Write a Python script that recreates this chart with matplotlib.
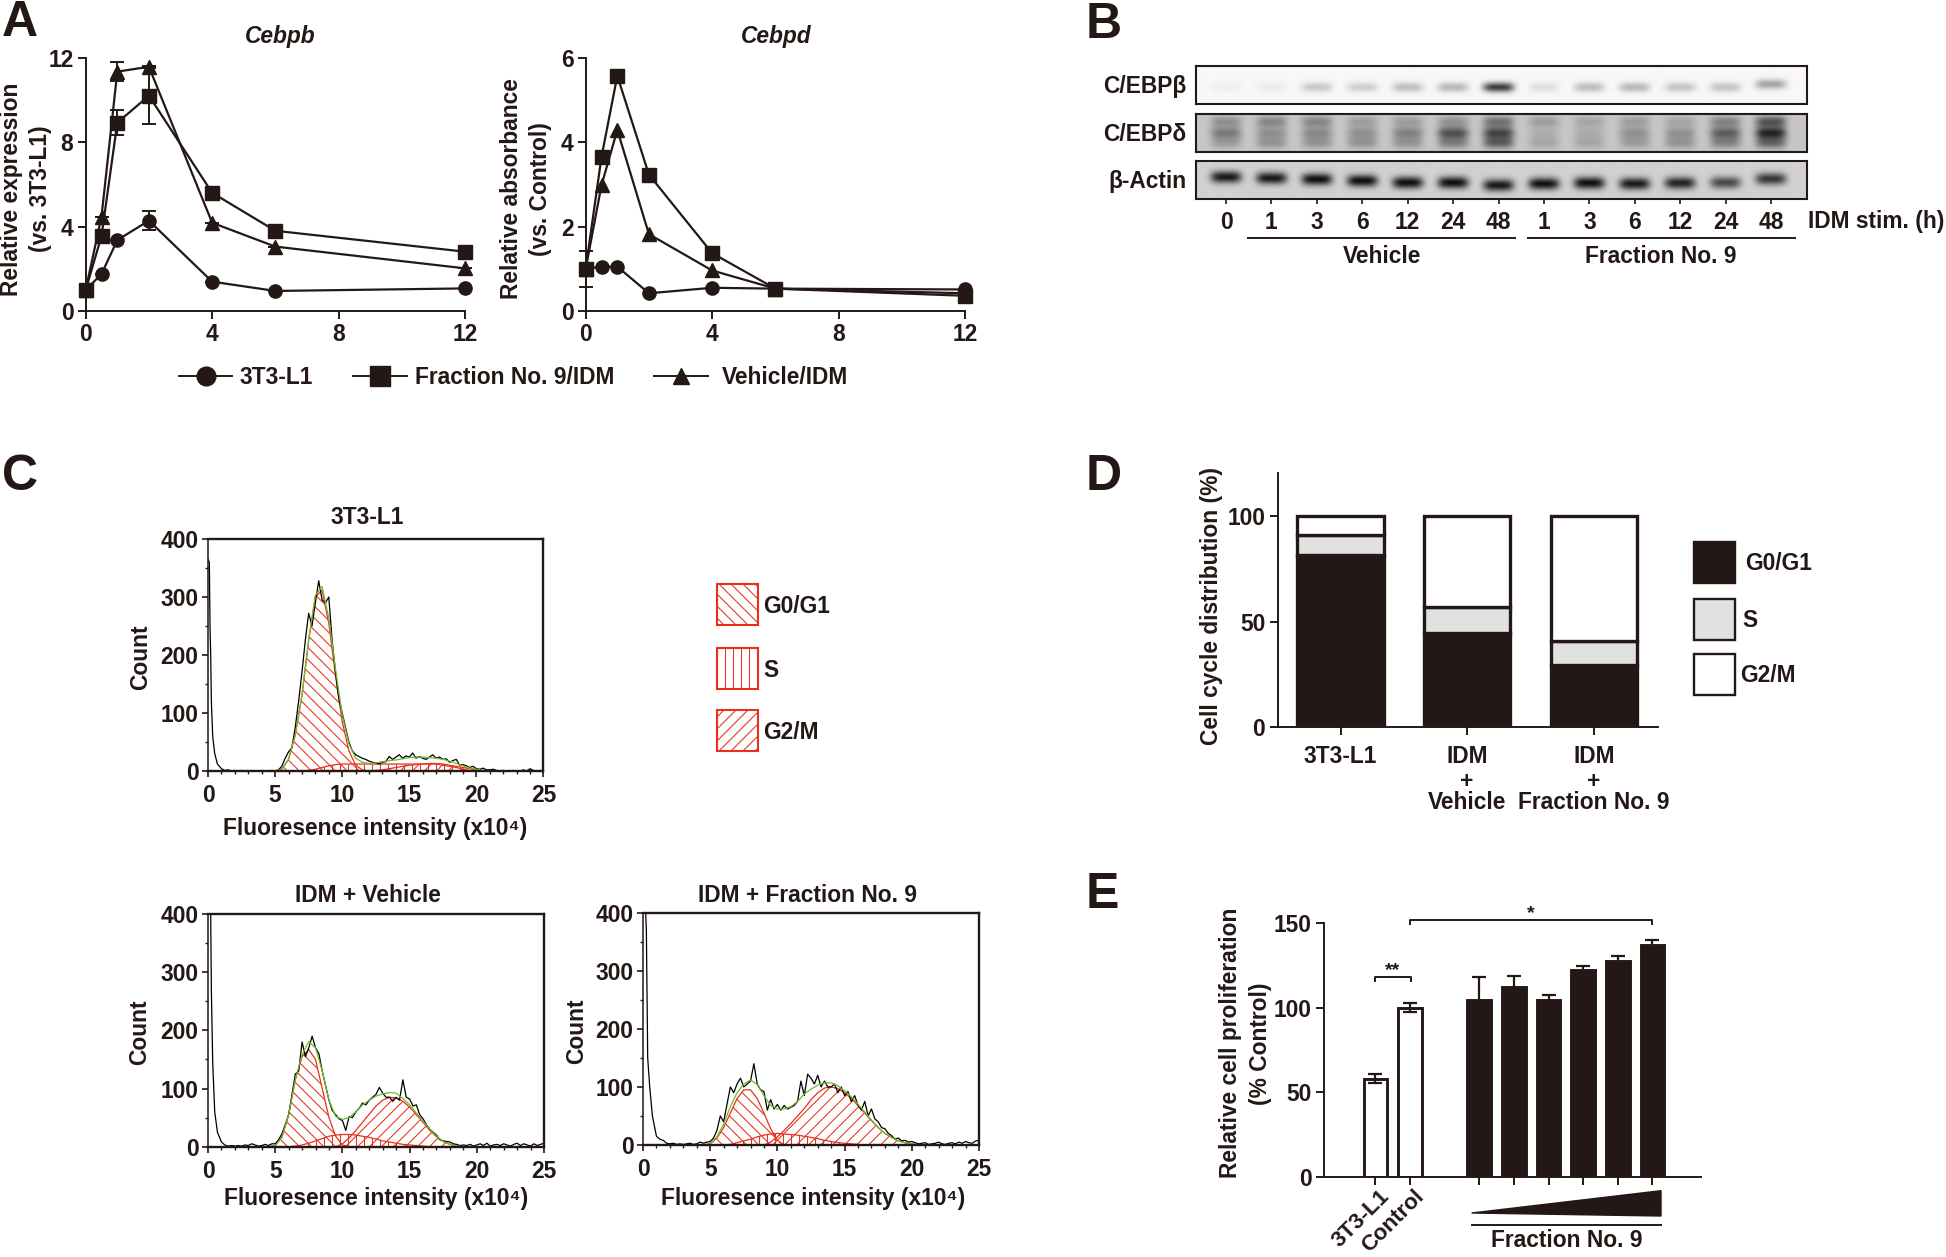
import numpy as np
import matplotlib
matplotlib.use('Agg')
import matplotlib.pyplot as plt
from matplotlib.collections import LineCollection
from matplotlib.patches import Polygon, Rectangle
from matplotlib.transforms import IdentityTransform

plt.rcParams['font.family'] = ['Liberation Sans', 'DejaVu Sans']
plt.rcParams['font.weight'] = 'bold'

W, H = 1946, 1257
DPI = 100
INK = '#231815'
RED = '#e8301c'
GREEN = '#6fbb2e'
FS = 16.4

# panel A
hours = [0, 0.5, 1, 2, 4, 6, 12]
cebpb_3t3 = [1.0, 1.75, 3.36, 4.28, 1.39, 0.95, 1.07]
cebpb_frac = [1.0, 3.55, 8.92, 10.2, 5.6, 3.8, 2.81]
cebpb_veh = [1.0, 4.47, 11.34, 11.57, 4.18, 3.05, 2.02]
cebpb_3t3_err = [0, 0, 0, 0.46, 0, 0, 0]
cebpb_frac_err = [0, 0, 0.6, 1.35, 0, 0, 0]
cebpb_veh_err = [0, 0, 0.44, 0.05, 0, 0, 0]
cebpd_3t3 = [1.0, 1.05, 1.05, 0.42, 0.55, 0.53, 0.51]
cebpd_frac = [1.0, 3.65, 5.57, 3.23, 1.37, 0.53, 0.36]
cebpd_veh = [1.0, 2.98, 4.29, 1.82, 0.96, 0.53, 0.42]
cebpd_frac_err = [0.43, 0, 0, 0, 0, 0, 0]

# panel B
lane_labels = ['0', '1', '3', '6', '12', '24', '48', '1', '3', '6', '12', '24', '48']
beta_bands = [0.04, 0.05, 0.2, 0.18, 0.25, 0.27, 0.8, 0.1, 0.25, 0.27, 0.22, 0.22, 0.36]
delta_top = [0.3, 0.35, 0.35, 0.22, 0.22, 0.28, 0.45, 0.22, 0.18, 0.22, 0.18, 0.36, 0.62]
delta_mid = [0.4, 0.28, 0.32, 0.28, 0.36, 0.62, 0.68, 0.12, 0.14, 0.28, 0.28, 0.55, 0.85]
delta_low = [0.22, 0.27, 0.27, 0.27, 0.27, 0.38, 0.55, 0.18, 0.18, 0.22, 0.27, 0.36, 0.5]
actin_bands = [0.95, 0.95, 1, 1, 1, 1, 0.95, 1, 1, 0.95, 0.9, 0.7, 0.8]
actin_shift = [0.42, 0.45, 0.48, 0.52, 0.57, 0.57, 0.64, 0.6, 0.58, 0.6, 0.58, 0.57, 0.47]

# panel C, histogram traces: low_x then one row per 5 units of x
low_x = [0, 0.1, 0.15, 0.2, 0.25, 0.35, 0.5, 0.7, 1.0]
grid_x = [1.25, 1.5, 1.75, 2, 2.25, 2.5, 2.75, 3, 3.25, 3.5, 3.75, 4, 4.25, 4.5, 4.75, 5,
          5.25, 5.5, 5.75, 6, 6.25, 6.5, 6.75, 7, 7.25, 7.5, 7.75, 8, 8.25, 8.5, 8.75, 9, 9.25, 9.5, 9.75, 10,
          10.25, 10.5, 10.75, 11, 11.25, 11.5, 11.75, 12, 12.25, 12.5, 12.75, 13, 13.25, 13.5, 13.75, 14, 14.25, 14.5, 14.75, 15,
          15.25, 15.5, 15.75, 16, 16.25, 16.5, 16.75, 17, 17.25, 17.5, 17.75, 18, 18.25, 18.5, 18.75, 19, 19.25, 19.5, 19.75, 20,
          20.25, 20.5, 20.75, 21, 21.25, 21.5, 21.75, 22, 22.25, 22.5, 22.75, 23, 23.25, 23.5, 23.75, 24, 24.25, 24.5, 24.75, 25]
trace_3t3 = [365, 360, 250, 200, 120, 60, 30, 12, 4,
             1, 2, 0, 1, 0, 1, 0, 0, 1, 0, 0, 1, 0, 0, 1, 0,
             2, 8, 22, 33, 40, 75, 120, 170, 225, 272, 250, 290, 328, 295, 290, 300, 225, 170, 125, 100,
             75, 50, 35, 28, 25, 22, 20, 17, 15, 14, 12, 15, 16, 25, 20, 24, 28, 22, 26, 24,
             31, 22, 25, 22, 20, 24, 28, 22, 24, 20, 21, 15, 18, 20, 10, 11, 9, 6, 8, 4,
             3, 5, 2, 2, 3, 1, 0, 1, 0, 0, 1, 0, 0, 2, 0, 4, 1, 0, 1, 0]
trace_veh = [400, 400, 400, 400, 270, 145, 60, 25, 8,
             3, 1, 2, 1, 2, 1, 3, 2, 5, 3, 1, 2, 4, 2, 5, 5,
             12, 22, 38, 55, 90, 125, 130, 180, 155, 170, 190, 170, 160, 130, 105, 80, 62, 55, 48, 45,
             28, 52, 50, 60, 66, 75, 72, 80, 85, 90, 102, 92, 85, 85, 78, 85, 80, 115, 85, 82,
             70, 72, 55, 48, 38, 30, 25, 20, 12, 10, 9, 8, 5, 4, 2, 3, 2, 4, 1, 3,
             5, 2, 6, 1, 3, 4, 2, 5, 3, 1, 4, 6, 2, 5, 3, 1, 5, 2, 4, 6]
trace_frac = [400, 400, 400, 400, 370, 150, 100, 50, 15,
              10, 8, 3, 2, 3, 1, 2, 1, 2, 3, 1, 2, 5, 3, 5, 6,
              12, 25, 50, 40, 70, 100, 90, 105, 115, 100, 105, 110, 140, 105, 95, 92, 60, 78, 62, 70,
              60, 68, 62, 65, 68, 75, 110, 85, 122, 115, 105, 120, 100, 110, 100, 100, 105, 90, 100, 85,
              92, 75, 85, 68, 60, 75, 50, 62, 45, 40, 30, 28, 20, 16, 10, 12, 7, 8, 5, 6,
              4, 2, 3, 4, 1, 2, 3, 5, 2, 1, 3, 4, 2, 5, 3, 6, 4, 3, 7, 8]

# panel C, fitted curves on a shared x
fit_x = [4.5, 5, 5.5, 6, 6.5, 7, 7.5, 8, 8.5, 9, 9.5, 10, 10.5, 11, 11.5, 12, 12.5, 13,
         13.5, 14, 14.5, 15, 15.5, 16, 16.5, 17, 17.5, 18, 18.5, 19, 19.5, 20, 20.5, 21]
g0_3t3 = [0, 0, 3, 20, 62, 130, 225, 300, 312, 255, 165, 85, 35, 10, 2, 0, 0, 0,
          0, 0, 0, 0, 0, 0, 0, 0, 0, 0, 0, 0, 0, 0, 0, 0]
s_3t3 = [0, 0, 0, 0, 0, 0, 1, 3, 6, 9, 11, 12, 12, 12, 12, 12, 12, 12,
         12, 12, 12, 12, 12, 12, 12, 12, 10, 8, 6, 3, 1, 0, 0, 0]
g2_3t3 = [0, 0, 0, 0, 0, 0, 0, 0, 0, 0, 0, 0, 0, 0, 0, 0, 1, 2,
          4, 6, 8, 10, 11, 12, 13, 13, 12, 10, 8, 6, 4, 2, 1, 0]
fit_3t3 = [0, 0, 3, 20, 62, 130, 226, 303, 318, 264, 176, 97, 47, 22, 15, 13, 14, 16,
           18, 19, 21, 23, 24, 24, 23, 22, 20, 17, 13, 9, 5, 3, 1, 0]
g0_veh = [0, 2, 16, 55, 115, 155, 167, 150, 100, 50, 18, 3, 0, 0, 0, 0, 0, 0,
          0, 0, 0, 0, 0, 0, 0, 0, 0, 0, 0, 0, 0, 0, 0, 0]
s_veh = [0, 0, 0, 0, 1, 3, 6, 10, 14, 18, 20, 21, 21, 20, 18, 16, 13, 10,
         8, 6, 4, 3, 2, 1, 0, 0, 0, 0, 0, 0, 0, 0, 0, 0]
g2_veh = [0, 0, 0, 0, 0, 0, 0, 0, 0, 0, 0, 5, 15, 28, 42, 56, 70, 80,
          85, 84, 78, 68, 55, 42, 28, 17, 9, 4, 1, 0, 0, 0, 0, 0]
fit_veh = [0, 2, 16, 55, 116, 158, 181, 170, 130, 80, 52, 47, 50, 60, 72, 80, 87, 91,
           93, 92, 83, 72, 58, 44, 30, 18, 9, 4, 1, 0, 0, 0, 0, 0]
g0_frac = [0, 2, 12, 30, 55, 80, 95, 95, 80, 55, 28, 8, 0, 0, 0, 0, 0, 0,
           0, 0, 0, 0, 0, 0, 0, 0, 0, 0, 0, 0, 0, 0, 0, 0]
s_frac = [0, 0, 0, 0, 1, 4, 7, 10, 14, 17, 19, 20, 19, 18, 17, 15, 13, 11,
          8, 6, 4, 3, 2, 1, 0, 0, 0, 0, 0, 0, 0, 0, 0, 0]
g2_frac = [0, 0, 0, 0, 0, 0, 0, 0, 0, 0, 5, 14, 25, 37, 50, 63, 78, 90,
           98, 100, 97, 90, 80, 68, 55, 42, 30, 20, 13, 7, 4, 2, 0, 0]
fit_frac = [0, 3, 14, 36, 66, 90, 105, 112, 104, 85, 68, 62, 62, 66, 75, 88, 96, 103,
            107, 107, 102, 93, 83, 70, 57, 43, 30, 20, 13, 7, 4, 2, 0, 0]

# panel D
groups = ['3T3-L1', 'IDM\n+\nVehicle', 'IDM\n+\nFraction No. 9']
g0g1_pct = [81.5, 44.5, 29.5]
s_pct = [9.5, 12.5, 11.5]
g2m_pct = [9.0, 43.0, 59.0]

# panel E
bar_slots = [1, 2, 4, 5, 6, 7, 8, 9]
prolif = [58, 100, 104.6, 111.9, 104.4, 122, 127.3, 136.8]
prolif_err = [2.5, 2.7, 13.6, 6.7, 3.2, 2.7, 3.4, 3.3]


def axes_px(left, top, right, bottom):
    return fig.add_axes([left / W, 1 - bottom / H, (right - left) / W, (bottom - top) / H])


def label(x, y, s, size=FS, ha='center', va='center', **kw):
    rot = kw.get('rotation')
    if rot is None:
        y += 1.5
    elif rot == 90:
        x += 2
    ov.text(x, y, s, fontsize=size, ha=ha, va=va, color=INK, **kw)


def hatch(ax, patch, kind, step=12):
    # hatch lines in pixels, so the spacing is the same in every panel
    bb = patch.get_window_extent()
    reach = int(bb.width + bb.height) + step
    segs = []
    if kind == 'v':
        for x in np.arange(bb.x0, bb.x1, step):
            segs.append([(x, bb.y0), (x, bb.y1)])
    else:
        sign = 1 if kind == '/' else -1
        for off in range(-reach, reach, step):
            x0 = bb.x0 + off
            segs.append([(x0, bb.y0 if sign > 0 else bb.y1),
                         (x0 + bb.height, bb.y1 if sign > 0 else bb.y0)])
    lc = LineCollection(segs, colors=RED, linewidths=0.75, transform=IdentityTransform())
    ax.add_collection(lc, autolim=False)
    lc.set_clip_path(patch)


def style_line_axes(ax, xmax, ymax, xticks, yticks):
    ax.set_xlim(0, xmax)
    ax.set_ylim(0, ymax)
    ax.set_xticks(xticks)
    ax.set_yticks(yticks)
    ax.patch.set_alpha(0)
    for side in ['top', 'right']:
        ax.spines[side].set_visible(False)
    for side in ['left', 'bottom']:
        ax.spines[side].set_linewidth(1.4)
        ax.spines[side].set_color(INK)
    ax.tick_params(length=5.8, width=1.4, color=INK, labelcolor=INK, labelsize=FS, pad=3)


def draw_series(ax, y, err, marker, ms):
    ax.errorbar(hours, y, yerr=err, color=INK, lw=1.6, marker=marker, ms=ms, capsize=5,
                capthick=1.4, elinewidth=1.4, clip_on=False, zorder=3)


def draw_hist(box, trace, g0, s, g2, fit):
    ax = axes_px(*box)
    ax.set_xlim(0, 25)
    ax.set_ylim(0, 400)
    ax.set_xticks([0, 5, 10, 15, 20, 25])
    ax.set_xticks(np.arange(0, 26, 1), minor=True)
    ax.set_yticks([0, 100, 200, 300, 400])
    ax.set_yticks(np.arange(0, 401, 50), minor=True)
    ax.tick_params(length=4, width=1.2, color=INK, labelcolor=INK, labelsize=FS, pad=3)
    ax.tick_params(axis='x', pad=5.5)
    ax.tick_params(which='minor', length=2, width=1, color=INK)
    for spine in ax.spines.values():
        spine.set_linewidth(1.7)
        spine.set_color(INK)
    ax.spines['left'].set_linewidth(1.1)
    for curve, kind in [(g0, '\\'), (s, 'v'), (g2, '/')]:
        patch = Polygon(list(zip(fit_x, curve)), closed=True, fill=False, edgecolor=RED, lw=0.9)
        ax.add_patch(patch)
        hatch(ax, patch, kind, step=8 if kind == 'v' else 12)
    ax.plot(low_x + grid_x, trace, color='black', lw=0.9)
    ax.plot(fit_x, fit, color=GREEN, lw=0.9)
    return ax


def draw_blot(top, bottom, bg, bands):
    ax = axes_px(1196, top, 1807, bottom)
    yy, xx = np.mgrid[0:1:(bottom - top) * 2j, -0.66:12.79:1200j]
    img = np.full(xx.shape, 0.0)
    for lane in range(13):
        prof = np.exp(-((xx - lane) / 0.34) ** 4)
        for strength, centre, sig in bands(lane):
            img += strength * prof * np.exp(-((yy - centre) / sig) ** 2)
    ax.imshow(bg - np.clip(img, 0, 1) * (bg - 0.06), cmap='gray', vmin=0, vmax=1,
              extent=(-0.66, 12.79, 1, 0), aspect='auto', interpolation='bilinear')
    ax.set_yticks([])
    ax.set_xticks([])
    for spine in ax.spines.values():
        spine.set_linewidth(1.5)
        spine.set_color(INK)
    return ax


fig = plt.figure(figsize=(W / DPI, H / DPI), dpi=DPI)

# A
ax_b = axes_px(85.7, 57.7, 465, 311)
style_line_axes(ax_b, 12, 12, [0, 4, 8, 12], [0, 4, 8, 12])
draw_series(ax_b, cebpb_3t3, cebpb_3t3_err, 'o', 9.5)
draw_series(ax_b, cebpb_veh, cebpb_veh_err, '^', 10)
draw_series(ax_b, cebpb_frac, cebpb_frac_err, 's', 10)

ax_d = axes_px(585.7, 57.7, 965, 311)
style_line_axes(ax_d, 12, 6, [0, 4, 8, 12], [0, 2, 4, 6])
draw_series(ax_d, cebpd_3t3, None, 'o', 9.5)
draw_series(ax_d, cebpd_veh, None, '^', 10)
draw_series(ax_d, cebpd_frac, cebpd_frac_err, 's', 10)

# B
draw_blot(66, 104, 0.97, lambda i: [(beta_bands[i], 0.56 - (0.08 if i == 12 else 0), 0.13)])
draw_blot(114, 152, 0.78, lambda i: [(delta_top[i], 0.2, 0.16), (delta_mid[i], 0.5, 0.16),
                                     (delta_low[i], 0.76, 0.16)])
ax_actin = draw_blot(161, 199, 0.82, lambda i: [(actin_bands[i], actin_shift[i], 0.16)])
ax_actin.set_xlim(-0.66, 12.79)
ax_actin.set_xticks(range(13))
ax_actin.set_xticklabels(lane_labels)
ax_actin.tick_params(length=3.6, width=1.2, color=INK, labelcolor=INK, labelsize=FS, pad=5)

# C
draw_hist((208, 539, 543.5, 771), trace_3t3, g0_3t3, s_3t3, g2_3t3, fit_3t3)
draw_hist((208, 914, 544, 1146.7), trace_veh, g0_veh, s_veh, g2_veh, fit_veh)
draw_hist((643, 912.7, 979, 1145), trace_frac, g0_frac, s_frac, g2_frac, fit_frac)

# D
ax_cc = axes_px(1277.6, 473, 1658, 727)
ax_cc.set_xlim(-0.496, 2.503)
ax_cc.set_ylim(0, 120.4)
ax_cc.patch.set_alpha(0)
pos = np.arange(3)
edge = dict(edgecolor=INK, linewidth=2.4, width=0.68)
ax_cc.bar(pos, g0g1_pct, color=INK, **edge)
ax_cc.bar(pos, s_pct, bottom=g0g1_pct, color='#e0e1e0', **edge)
ax_cc.bar(pos, g2m_pct, bottom=np.add(g0g1_pct, s_pct), color='white', **edge)
ax_cc.set_xticks(pos)
ax_cc.set_xticklabels([])
ax_cc.set_yticks([0, 50, 100])
for side in ['top', 'right']:
    ax_cc.spines[side].set_visible(False)
for side in ['left', 'bottom']:
    ax_cc.spines[side].set_linewidth(1.4)
    ax_cc.spines[side].set_color(INK)
ax_cc.tick_params(length=6, width=1.4, color=INK, labelcolor=INK, labelsize=FS, pad=3)

# E
ax_p = axes_px(1324, 923, 1701, 1176.7)
ax_p.set_xlim(-0.48, 10.4)
ax_p.set_ylim(0, 150)
ax_p.patch.set_alpha(0)
bar_colors = ['white', 'white'] + [INK] * 6
ax_p.bar(bar_slots, prolif, width=0.68, color=bar_colors, edgecolor=INK, linewidth=2.1)
ax_p.errorbar(bar_slots, prolif, yerr=prolif_err, fmt='none', ecolor=INK, elinewidth=1.6,
              capsize=5, capthick=1.6)
ax_p.set_xticks(bar_slots)
ax_p.set_xticklabels([])
ax_p.set_yticks([0, 50, 100, 150])
for side in ['top', 'right']:
    ax_p.spines[side].set_visible(False)
for side in ['left', 'bottom']:
    ax_p.spines[side].set_linewidth(1.4)
    ax_p.spines[side].set_color(INK)
ax_p.tick_params(length=6, width=1.4, color=INK, labelcolor=INK, labelsize=FS, pad=3)

# everything placed by hand goes on a pixel overlay
ov = fig.add_axes([0, 0, 1, 1], zorder=10)
ov.set_xlim(0, W)
ov.set_ylim(H, 0)
ov.axis('off')

for letter, x, y in [('A', 2, 22), ('B', 1086, 23), ('C', 2, 476), ('D', 1086, 476), ('E', 1086, 893)]:
    label(x, y, letter, size=36, ha='left')

# A texts and legend
label(280, 35, 'Cebpb', style='italic')
label(776, 35, 'Cebpd', style='italic')
label(10, 189, 'Relative expression', rotation=90)
label(39, 189, '(vs. 3T3-L1)', rotation=90)
label(509, 189, 'Relative absorbance', rotation=90)
label(538, 189, '(vs. Control)', rotation=90)
for x0, x1, marker, ms, text, tx in [(179, 232, 'o', 13.5, '3T3-L1', 240),
                                     (353, 407, 's', 14, 'Fraction No. 9/IDM', 415),
                                     (654, 708, '^', 12, 'Vehicle/IDM', 722)]:
    ov.plot([x0, x1], [376, 376], color=INK, lw=1.4)
    ov.plot([(x0 + x1) / 2], [376], marker=marker, ms=ms, color=INK)
    label(tx, 376, text, ha='left')

# B texts
label(1186, 85, 'C/EBPβ', ha='right')
label(1186, 133, 'C/EBPδ', ha='right')
label(1186, 180, 'β-Actin', ha='right')
label(1808, 220, 'IDM stim. (h)', ha='left')
ov.plot([1248, 1515], [238, 238], color=INK, lw=1.4)
ov.plot([1527.5, 1795], [238, 238], color=INK, lw=1.4)
label(1382, 255, 'Vehicle')
label(1661, 255, 'Fraction No. 9')

# C texts and legend
xlab = 'Fluoresence intensity (x10⁴)'
label(367, 516, '3T3-L1')
label(368, 894, 'IDM + Vehicle')
label(807, 894, 'IDM + Fraction No. 9')
label(375, 827, xlab)
label(376, 1197, xlab)
label(813, 1197, xlab)
label(139, 657.5, 'Count', rotation=90)
label(138, 1032, 'Count', rotation=90)
label(575, 1031, 'Count', rotation=90)
for top, kind, text in [(584, '\\', 'G0/G1'), (648, 'v', 'S'), (710, '/', 'G2/M')]:
    box = Rectangle((717, top), 41, 41, fill=False, edgecolor=RED, lw=1.5)
    ov.add_patch(box)
    hatch(ov, box, kind, step=8 if kind == 'v' else 12)
    label(763, top + 21, text, ha='left')

# D texts and legend
label(1209.5, 606, 'Cell cycle distribution (%)', rotation=90)
for x, text in zip([1340.5, 1467, 1594], groups):
    for y, line in zip([755, 780, 801], text.split('\n')):
        label(x, y, line)
for top, color, text, tx in [(542, INK, 'G0/G1', 1745), (599, '#e0e1e0', 'S', 1742), (654, 'white', 'G2/M', 1740)]:
    ov.add_patch(Rectangle((1694, top), 41, 41, facecolor=color, edgecolor=INK, lw=1.7))
    label(tx, top + 20, text, ha='left')

# E texts
label(1229, 1043, 'Relative cell proliferation', rotation=90)
label(1258, 1044, '(% Control)', rotation=90)
label(1379, 1186, '3T3-L1', size=16, ha='right', va='top', rotation=45, rotation_mode='anchor')
label(1414, 1186, 'Control', size=16, ha='right', va='top', rotation=45, rotation_mode='anchor')
ov.plot([1375.3, 1375.3, 1410.6, 1410.6], [981, 977, 977, 981], color=INK, lw=1.4)
label(1392.7, 969, '**', size=14)
ov.plot([1410, 1410, 1652, 1652], [924, 920, 920, 924], color=INK, lw=1.4)
label(1531, 912, '*', size=14)
ov.add_patch(Polygon([(1471.7, 1213), (1661, 1190.7), (1661, 1216)], color=INK))
ov.plot([1471.7, 1660.7], [1224.7, 1224.7], color=INK, lw=1.4)
label(1566.7, 1239, 'Fraction No. 9')

fig.savefig('out.png', dpi=DPI)
